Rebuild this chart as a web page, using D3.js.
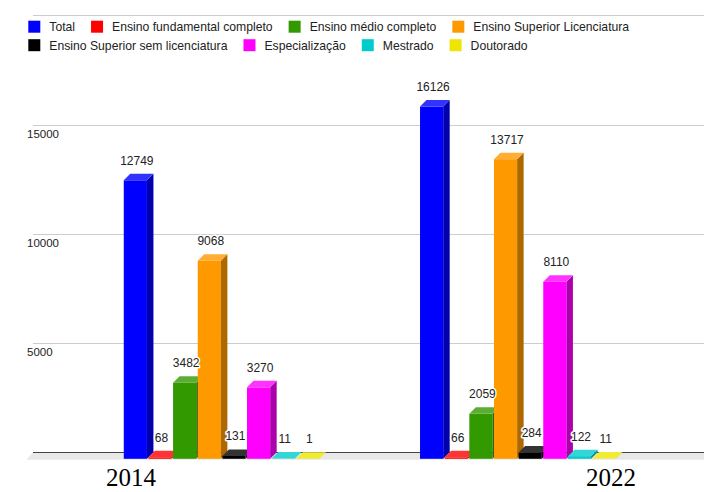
<!DOCTYPE html>
<html>
<head>
<meta charset="utf-8">
<script src="https://cdn.jsdelivr.net/npm/d3@7"></script>
<style>
  html, body { margin: 0; padding: 0; background: #fff; }
  svg { display: block; }
</style>
</head>
<body>
<svg id="chart" width="704" height="492"></svg>
<script>
// Data
const years = ["2014", "2022"];
const series = [
  "Total",
  "Ensino fundamental completo",
  "Ensino médio completo",
  "Ensino Superior Licenciatura",
  "Ensino Superior sem licenciatura",
  "Especialização",
  "Mestrado",
  "Doutorado"
];
const values2014 = [12749, 68, 3482, 9068, 131, 3270, 11, 1];
const values2022 = [16126, 66, 2059, 13717, 284, 8110, 122, 11];
const colors = ["#0000ff", "#ff0000", "#339900", "#ff9900", "#000000", "#ff00ff", "#00cccc", "#eee600"];
const yTicks = [5000, 10000, 15000, 20000];
const legendRows = [[0, 1, 2, 3], [4, 5, 6, 7]];

const valuesByYear = { "2014": values2014, "2022": values2022 };

const svg = d3.select("#chart");
const W = 704;
const plotLeft = 33;
const depth = 6.5;

// Back wall scale
const y = d3.scaleLinear().domain([0, 20000]).range([452.3, 15.4]);
const x0 = d3.scaleBand().domain(years).range([73.5, 666]).padding(0);
const x1 = d3.scaleBand().domain(series).range([0, x0.bandwidth()])
  .paddingOuter(2.04).paddingInner(0.06);
const xLabel = d3.scalePoint().domain(years).range([131, 611]);

const color = d3.scaleOrdinal().domain(series).range(colors);
const topColor = s => d3.interpolateRgb(color(s), "#ffffff")(0.2);
const sideColor = s => {
  const c = d3.rgb(color(s));
  return d3.rgb(c.r * 0.68, c.g * 0.68, c.b * 0.68).formatHex();
};

// Gridlines on the back wall
svg.append("g").selectAll("line").data(yTicks).join("line")
  .attr("x1", plotLeft).attr("x2", W)
  .attr("y1", d => Math.round(y(d)) + 0.5).attr("y2", d => Math.round(y(d)) + 0.5)
  .attr("stroke", "#cccccc").attr("stroke-width", 1);

// Floor
const y0 = y(0);
svg.append("path")
  .attr("d", `M${plotLeft},${y0} L${W},${y0} L${W},${y0 + depth + 1} L${plotLeft - depth},${y0 + depth + 1} Z`)
  .attr("fill", "#e8e8e8");
svg.append("line")
  .attr("x1", plotLeft).attr("x2", W)
  .attr("y1", Math.round(y0) + 0.5).attr("y2", Math.round(y0) + 0.5)
  .attr("stroke", "#444").attr("stroke-width", 1);

// Y tick labels (below each gridline)
svg.append("g").selectAll("text").data(yTicks.filter(d => d < 20000)).join("text")
  .attr("x", 27).attr("y", d => y(d) + 13)
  .attr("font-family", "Liberation Sans, Arial, sans-serif")
  .attr("font-size", 11.5).attr("fill", "#222")
  .text(d => d);

// 3D bars
const bars = [];
years.forEach(yr => {
  series.forEach((s, i) => {
    bars.push({ year: yr, series: s, value: valuesByYear[yr][i] });
  });
});

const gBars = svg.append("g");
bars.forEach(b => {
  const fx = x0(b.year) + x1(b.series);
  const w = x1.bandwidth();
  const yt = y(b.value);
  const g = gBars.append("g");
  // front face
  g.append("rect")
    .attr("x", fx).attr("y", yt + depth)
    .attr("width", w).attr("height", Math.max(0, y0 - yt))
    .attr("fill", color(b.series));
  // side face
  g.append("path")
    .attr("d", `M${fx + w},${yt + depth} L${fx + w + depth},${yt} L${fx + w + depth},${y0} L${fx + w},${y0 + depth} Z`)
    .attr("fill", sideColor(b.series));
  // top face
  g.append("path")
    .attr("d", `M${fx},${yt + depth} L${fx + w},${yt + depth} L${fx + w + depth},${yt} L${fx + depth},${yt} Z`)
    .attr("fill", topColor(b.series));
});

// Value labels
svg.append("g").selectAll("text").data(bars).join("text")
  .attr("x", d => x0(d.year) + x1(d.series) + x1.bandwidth() / 2 + 1.5)
  .attr("y", d => y(d.value) - 9)
  .attr("text-anchor", "middle")
  .attr("font-family", "Liberation Sans, Arial, sans-serif")
  .attr("font-size", 12).attr("fill", "#222")
  .attr("stroke", "#fff").attr("stroke-width", 3).attr("stroke-linejoin", "round")
  .attr("paint-order", "stroke")
  .text(d => d.value);

// X category labels
svg.append("g").selectAll("text").data(years).join("text")
  .attr("x", d => xLabel(d)).attr("y", 486)
  .attr("text-anchor", "middle")
  .attr("font-family", "Liberation Serif, Times New Roman, serif")
  .attr("font-size", 25).attr("fill", "#000")
  .text(d => d);

// Legend
const legend = svg.append("g");
const rowY = [26.7, 45.2];
legendRows.forEach((row, r) => {
  let cx = 28.3;
  row.forEach(i => {
    const s = series[i];
    legend.append("rect")
      .attr("x", cx).attr("y", rowY[r] - 6).attr("width", 12).attr("height", 12)
      .attr("fill", color(s));
    const t = legend.append("text")
      .attr("x", cx + 21).attr("y", rowY[r] + 4.4)
      .attr("font-family", "Liberation Sans, Arial, sans-serif")
      .attr("font-size", 12.2).attr("fill", "#222")
      .text(s);
    cx += 21 + t.node().getComputedTextLength() + 16;
  });
});
</script>
</body>
</html>
